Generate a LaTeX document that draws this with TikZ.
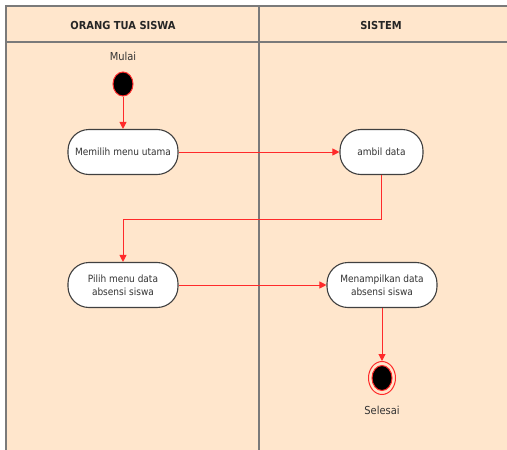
\documentclass[tikz,border=0pt]{standalone}
\usepackage{fontspec}
\setmainfont{DejaVu Sans Condensed}
\usetikzlibrary{arrows.meta,shapes.geometric}
\definecolor{peach}{HTML}{FFE6CC}
\definecolor{framec}{HTML}{7A7A7A}
\definecolor{txt}{HTML}{333333}
\definecolor{arr}{HTML}{FF2A2A}
\definecolor{boxline}{HTML}{404040}
\tikzset{
  act/.style={rectangle, rounded corners=21pt, draw=boxline, fill=white, line width=1.1pt,
    minimum width=110pt, minimum height=45pt, align=center, text=txt,
    font=\fontsize{10}{13}\selectfont, inner sep=2pt},
  flow/.style={draw=arr, line width=1pt, -{Triangle[width=7pt,length=7pt]}},
  lbl/.style={text=txt, font=\fontsize{11}{13}\selectfont},
  hdr/.style={text=black!85, font=\bfseries\fontsize{11}{13}\selectfont}
}
\begin{document}
\begin{tikzpicture}[x=1pt,y=-1pt]
\useasboundingbox (0,0) rectangle (507,450);
\begin{scope}
\clip (0,0) rectangle (507,450);
\fill[peach] (6,6) rectangle (520,470);
\draw[framec, line width=1.6pt] (6,470) -- (6,6) -- (520,6);
\draw[framec, line width=1.6pt] (6,42) -- (520,42);
\draw[framec, line width=1.6pt] (259,6) -- (259,470);
\end{scope}
\node[hdr] (h1) at (123,25) {ORANG TUA SISWA};
\node[hdr] (h2) at (381,25) {SISTEM};
\node[lbl] (mulai) at (123,56) {Mulai};
\node[ellipse, fill=black, draw=arr, line width=1pt, minimum width=20pt, minimum height=24pt, inner sep=0pt] (start) at (123,84) {};
\node[act] (memilih) at (123,152) {Memilih menu utama};
\node[act, minimum width=83pt] (ambil) at (381.5,152) {ambil data};
\node[act] (pilih) at (123,285) {Pilih menu data\\absensi siswa};
\node[act] (tampil) at (382,285) {Menampilkan data\\absensi siswa};
\node[ellipse, draw=arr, line width=1pt, minimum width=27pt, minimum height=33pt, inner sep=0pt] (endo) at (382,378) {};
\node[ellipse, fill=black, draw=arr, line width=1pt, minimum width=20pt, minimum height=25pt, inner sep=0pt] (endi) at (382,378) {};
\node[lbl] (selesai) at (382,410) {Selesai};
\coordinate (bend) at (381.5,219);
\draw[flow] (start) -- (memilih);
\draw[flow] (memilih) -- (ambil);
\draw[flow] (ambil.south) -- (bend) -| (pilih.north);
\draw[flow] (pilih) -- (tampil);
\draw[flow] (tampil) -- (endo);
\end{tikzpicture}
\end{document}
